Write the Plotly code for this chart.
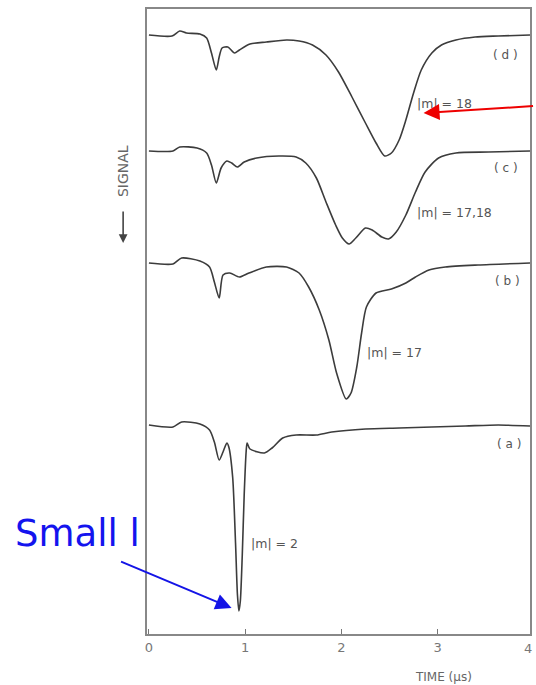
import plotly.graph_objects as go

# ---- data (time in microseconds, signal depth in arbitrary units) ----
time_d = [0.0, 0.24, 0.32, 0.39, 0.53, 0.60, 0.65, 0.70, 0.73, 0.76, 0.82, 0.89, 0.94, 1.05, 1.22,
          1.43, 1.56, 1.70, 1.84, 1.97, 2.11, 2.25, 2.36, 2.45, 2.52, 2.60, 2.67, 2.75, 2.83, 2.94,
          3.04, 3.19, 3.39, 3.63, 3.96]
sig_d = [0, 1, -4, -2, -1, 3, 18, 35, 22, 13, 12, 18, 15, 9, 7,
         5, 6, 10, 20, 37, 62, 88, 108, 121, 118, 105, 85, 58, 35, 18,
         10, 5, 2, 1, 0]

time_c = [0.0, 0.25, 0.32, 0.50, 0.60, 0.65, 0.70, 0.75, 0.81, 0.86, 0.92, 0.99, 1.12, 1.35, 1.53,
          1.63, 1.74, 1.84, 1.94, 2.01, 2.08, 2.15, 2.25, 2.32, 2.42, 2.49, 2.57, 2.67, 2.77, 2.87,
          3.01, 3.19, 3.53, 3.96]
sig_c = [0, 0, -4, -3, 2, 14, 32, 17, 10, 12, 16, 11, 7, 5, 6,
         12, 27, 51, 74, 87, 93, 87, 77, 79, 86, 88, 81, 64, 41, 21,
         7, 2, 1, 0]

time_b = [0.0, 0.25, 0.34, 0.53, 0.63, 0.68, 0.73, 0.77, 0.84, 0.94, 1.04, 1.22, 1.43, 1.56, 1.66,
          1.77, 1.87, 1.95, 2.05, 2.10, 2.16, 2.21, 2.26, 2.36, 2.52, 2.67, 2.77, 2.91, 3.08, 3.42,
          3.96]
sig_b = [0, 1, -5, -2, 4, 19, 35, 12, 10, 14, 10, 4, 4, 10, 24,
         47, 77, 110, 136, 130, 104, 70, 44, 30, 26, 20, 14, 7, 4, 2,
         0]

time_a = [0.0, 0.25, 0.34, 0.53, 0.63, 0.68, 0.73, 0.77, 0.81, 0.83, 0.87, 0.90, 0.92, 0.935, 0.95,
          0.97, 0.99, 1.01, 1.02, 1.05, 1.20, 1.28, 1.39, 1.53, 1.74, 1.90, 2.25, 2.60, 2.94, 3.29,
          3.63, 3.96]
sig_a = [0, 2, -3, -1, 5, 17, 35, 27, 18, 22, 52, 118, 170, 186, 176,
         130, 70, 27, 18, 24, 28, 23, 13, 10, 10, 7, 4, 3, 2, 1,
         0, 1]

trace_names = ["( d )", "( c )", "( b )", "( a )"]
m_labels = ["|m| = 18", "|m| = 17,18", "|m| = 17", "|m| = 2"]
stack_offsets = [26, 142, 254, 416]
x_ticks = [0, 1, 2, 3]

series = [(time_d, sig_d), (time_c, sig_c), (time_b, sig_b), (time_a, sig_a)]

# ---- figure ----
W, H = 536, 685
ML, MR, MT, MB = 147, 4, 9, 51
PW, PH = W - ML - MR, H - MT - MB


def px(xp, yp):
    """pixel position in the page -> paper coordinates"""
    return (xp - ML) / PW, (H - MB - yp) / PH


fig = go.Figure()
for (t, s), off, name in zip(series, stack_offsets, trace_names):
    fig.add_trace(go.Scatter(
        x=t, y=[off + v for v in s], mode="lines", name=name,
        line=dict(color="#3c3c3c", width=1.6, shape="spline", smoothing=0.7),
        hoverinfo="skip", showlegend=False))

grey = "#666666"
lab_font = dict(family="DejaVu Sans", size=12, color="#555555")

annotations = []
# trace letters
letter_pos = [(3.71, 46), (3.71, 159), (3.73, 272), (3.74, 435)]
for name, (lx, ly) in zip(trace_names, letter_pos):
    annotations.append(dict(x=lx, y=ly, xref="x", yref="y", text=name, showarrow=False,
                            xanchor="center", yanchor="middle", font=lab_font))
# |m| labels
m_pos = [(2.77, 94), (2.77, 203), (2.25, 343), (1.04, 534)]
for txt, (lx, ly) in zip(m_labels, m_pos):
    annotations.append(dict(x=lx, y=ly, xref="x", yref="y", text=txt, showarrow=False,
                            xanchor="left", yanchor="middle",
                            font=dict(family="DejaVu Sans", size=12.5, color="#555555")))

# x-axis title and the edge "4"
tx, ty = px(445, 677)
annotations.append(dict(x=tx, y=ty, xref="paper", yref="paper", text="TIME (μs)", showarrow=False,
                        xanchor="center", yanchor="middle",
                        font=dict(family="DejaVu Sans", size=12, color=grey)))
fx, fy = px(530, 648)
annotations.append(dict(x=fx, y=fy, xref="paper", yref="paper", text="4", showarrow=False,
                        xanchor="center", yanchor="middle",
                        font=dict(family="DejaVu Sans", size=13, color="#777777")))

# SIGNAL label with downward arrow
sx, sy = px(123, 171)
annotations.append(dict(x=sx, y=sy, xref="paper", yref="paper", text="SIGNAL", textangle=-90,
                        xanchor="center", yanchor="middle",
                        showarrow=False, font=dict(family="DejaVu Sans", size=14, color=grey)))
ax_, ay_ = px(123, 243)
annotations.append(dict(x=ax_, y=ay_, xref="paper", yref="paper", text="", showarrow=True,
                        ax=0, ay=-33, arrowhead=2, arrowsize=1.1, arrowwidth=1.6, arrowcolor="#444444"))

# red arrow
rx, ry = px(425, 113)
annotations.append(dict(x=rx, y=ry, xref="paper", yref="paper", text="", showarrow=True,
                        ax=111, ay=-7, arrowhead=2, arrowsize=1.6, arrowwidth=2, arrowcolor="#ee0000"))

# blue arrow and "Small l"
bx, by = px(232, 608)
annotations.append(dict(x=bx, y=by, xref="paper", yref="paper", text="", showarrow=True,
                        ax=-112, ay=-47, arrowhead=2, arrowsize=1.6, arrowwidth=2, arrowcolor="#1414e6"))
lx_, ly_ = px(77, 533)
annotations.append(dict(x=lx_, y=ly_, xref="paper", yref="paper", text="Small l", showarrow=False,
                        xanchor="center", yanchor="middle",
                        font=dict(family="Comic Sans MS, DejaVu Sans", size=37, color="#1414ee")))

fig.update_layout(
    width=W, height=H,
    margin=dict(l=ML, r=MR, t=MT, b=MB),
    paper_bgcolor="white", plot_bgcolor="white",
    annotations=annotations,
    xaxis=dict(range=[-0.02, 3.96], tickvals=x_ticks, ticks="inside", ticklen=5, tickwidth=1.2,
               tickcolor="#777777", showgrid=False, zeroline=False, showline=True, mirror=True,
               linecolor="#888888", linewidth=1.8,
               tickfont=dict(family="DejaVu Sans", size=13, color="#777777")),
    yaxis=dict(range=[625, 0], showticklabels=False, ticks="", showgrid=False, zeroline=False,
               showline=True, mirror=True, linecolor="#888888", linewidth=1.8),
)

fig.write_html("out.html", config={"displayModeBar": False},
               post_script="document.body.style.margin='0';document.body.style.overflow='hidden';")
